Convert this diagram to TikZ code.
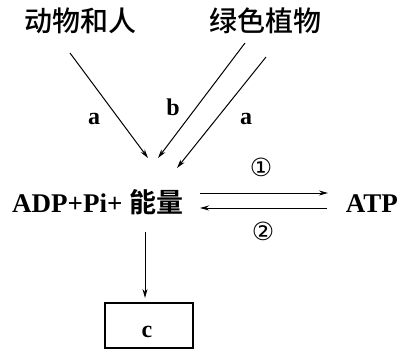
\documentclass[tikz,border=0pt]{standalone}
\usepackage{fontspec}
\setmainfont{Liberation Serif}
\newfontfamily\cjk[UprightFont={* Medium},BoldFont={* Bold}]{Noto Sans CJK SC}
\newfontfamily\sym{DejaVu Sans}
\usetikzlibrary{arrows.meta}
\tikzset{
  cjklabel/.style={font=\cjk\fontsize{28}{30}\selectfont, inner sep=0pt},
  latlabel/.style={font=\bfseries\fontsize{27}{30}\selectfont, inner sep=0pt},
  small/.style={font=\bfseries\fontsize{24}{26}\selectfont, inner sep=0pt},
  circnum/.style={font=\sym\fontsize{25}{27}\selectfont, inner sep=0pt},
  arr/.style={line width=1pt, -{Stealth[length=9pt,width=5pt]}},
  boxnode/.style={draw, line width=1.2pt, minimum width=88pt, minimum height=45pt, inner sep=0pt}
}
\begin{document}
\begin{tikzpicture}[x=1pt,y=-1pt]
\useasboundingbox (0,0) rectangle (401,349);
\node[cjklabel] (animal) at (80,21) {动物和人};
\node[cjklabel] (plant) at (265,21) {绿色植物};
\node[latlabel, anchor=base west] (adp) at (12,212) {ADP+Pi+ {\cjk 能量}};
\node[latlabel, anchor=base east] (atp) at (398,212) {ATP};
\node[boxnode] (cbox) at (149,325.5) {};
\node[small, anchor=base] (c) at (147,337) {c};
\coordinate (s1) at (70,53);  \coordinate (e1) at (148,158);
\coordinate (s2) at (245,43); \coordinate (e2) at (158,158);
\coordinate (s3) at (266,57); \coordinate (e3) at (177,168);
\coordinate (r1) at (200,193); \coordinate (r2) at (328,193);
\coordinate (l1) at (327,208); \coordinate (l2) at (200,208);
\coordinate (d1) at (145,232); \coordinate (d2) at (145,298);
\draw[arr] (s1) -- (e1);
\draw[arr] (s2) -- (e2);
\draw[arr] (s3) -- (e3);
\draw[arr] (r1) -- (r2);
\draw[arr] (l1) -- (l2);
\draw[arr] (d1) -- (d2);
\node[small, anchor=base] (la1) at (94,124) {a};
\node[small, anchor=base] (lb) at (173,115) {b};
\node[small, anchor=base] (la2) at (246,124) {a};
\node[circnum] (n1) at (261,167) {①};
\node[circnum] (n2) at (263,231) {②};
\end{tikzpicture}
\end{document}
